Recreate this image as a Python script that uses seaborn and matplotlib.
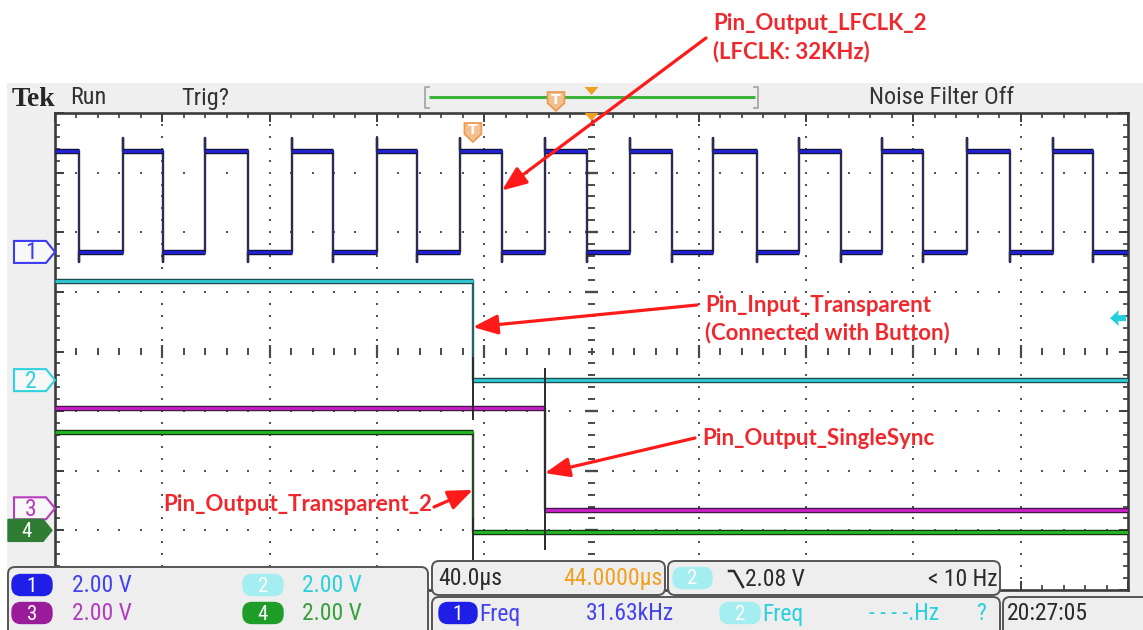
import numpy as np
import pandas as pd
import matplotlib
matplotlib.use("Agg")
import matplotlib.pyplot as plt
import seaborn as sns
from matplotlib import font_manager
from matplotlib.patches import Rectangle, FancyBboxPatch, Polygon
from matplotlib.ticker import MultipleLocator

# ---------------- scope settings ----------------
time_per_div_us = 40.0
volts_per_div = 2.0
h_divs, v_divs = 10, 8

channel_ids = [1, 2, 3, 4]
channel_offset_div = [1.67, -0.48, -2.63, -3.00]       # ground reference of each channel
channel_scale_labels = ["2.00 V", "2.00 V", "2.00 V", "2.00 V"]

# CH1 (LFCLK output): edge times in µs from the left edge of the record
ch1_fall_us = [8.9, 40.3, 71.9, 103.6, 134.9, 166.6, 198.3, 230.0, 261.7, 293.0, 323.6, 356.0, 387.0]
ch1_rise_us = [25.3, 55.9, 88.4, 120.0, 151.0, 182.7, 214.4, 245.3, 277.4, 308.3, 340.0, 372.0]
ch1_high_v, ch1_low_v = 3.38, 0.0
ch1_overshoot_v, ch1_undershoot_v = 0.45, 0.35

# CH2 (button input), CH3 (single-sync output), CH4 (transparent output)
ch2_edge_us, ch2_high_v, ch2_low_v = 155.8, 3.32, 0.0
ch3_edge_us, ch3_high_v, ch3_low_v = 182.6, 3.36, -0.06
ch4_edge_us, ch4_high_v, ch4_low_v = 155.8, 3.30, -0.06

# ringing on the falling edges: time (µs), lowest and highest excursion (div)
ring_t_us = [155.8, 155.8, 182.6]
ring_lo_div = [-1.15, -3.53, -3.33]
ring_hi_div = [-0.09, -2.78, -0.28]

# trigger
trigger_channel = 2
trigger_level_v = 2.08
trigger_time_us = 155.8

# readouts
header_labels = ["Run", "Trig?", "Noise Filter Off"]
timebase_label, position_label = "40.0\u00b5s", "44.0000\u00b5s"
trigger_label, trigger_rate_label = "2.08 V", "< 10 Hz"
meas_labels = ["Freq", "31.63kHz", "Freq", "- - - -.Hz", "?"]
clock_label = "20:27:05"

# annotation texts
note_lfclk = ["Pin_Output_LFCLK_2", "(LFCLK: 32KHz)"]
note_input = ["Pin_Input_Transparent", "(Connected with Button)"]
note_sync = "Pin_Output_SingleSync"
note_out2 = "Pin_Output_Transparent_2"

# ---------------- layout ----------------
W, H = 1143, 630
GL, GR, GT, GB = 55, 1128, 113, 590
T_END = h_divs * time_per_div_us


def t_px(t):
    return GL + t / T_END * (GR - GL)


def d_px(d):
    return GT + (v_divs / 2 - d) / v_divs * (GB - GT)


available = {f.name for f in font_manager.fontManager.ttflist}
scope_font = next((f for f in ["Liberation Sans Narrow", "Roboto Condensed", "Liberation Sans"]
                   if f in available), "DejaVu Sans")
fs = 1.0 if scope_font != "Liberation Sans" else 0.84
note_font = next((f for f in ["Lato", "Open Sans", "DejaVu Sans"] if f in available), "DejaVu Sans")


def build_square(falls, rises, high, low, over, under):
    events = sorted([(t, -1) for t in falls] + [(t, 1) for t in rises])
    level = high
    path_t, path_v, flats = [0.0], [level], []
    t_prev = 0.0
    for t, kind in events:
        flats.append((t_prev, t, level))
        if kind < 0:
            path_t += [t, t, t]
            path_v += [high, low - under, low]
            level = low
        else:
            path_t += [t, t, t]
            path_v += [low, high + over, high]
            level = high
        t_prev = t
    flats.append((t_prev, T_END, level))
    path_t.append(T_END)
    path_v.append(level)
    return path_t, path_v, flats


waves = {
    1: build_square(ch1_fall_us, ch1_rise_us, ch1_high_v, ch1_low_v, ch1_overshoot_v, ch1_undershoot_v),
    2: build_square([ch2_edge_us], [], ch2_high_v, ch2_low_v, 0, 0),
    3: build_square([ch3_edge_us], [], ch3_high_v, ch3_low_v, 0, 0),
    4: build_square([ch4_edge_us], [], ch4_high_v, ch4_low_v, 0, 0),
}

path_rows, flat_rows = [], []
for ch, off in zip(channel_ids, channel_offset_div):
    pt, pv, flats = waves[ch]
    for i, (t, v) in enumerate(zip(pt, pv)):
        path_rows.append(dict(ch=ch, seg=0, idx=i, t=t, div=off + v / volts_per_div))
    for s, (t0, t1, v) in enumerate(flats):
        for t in (t0, t1):
            flat_rows.append(dict(ch=ch, seg=s, t=t, div=off + v / volts_per_div))
path_df = pd.DataFrame(path_rows)
flat_df = pd.DataFrame(flat_rows)

trace_style = {
    1: dict(edge="#2c2c52", outline="#14143a", core="#2121d8"),
    2: dict(edge="#26626a", outline="#1c4c50", core="#2fc6d0"),
    3: dict(edge="#6e3280", outline="#421744", core="#c41fc6"),
    4: dict(edge="#284628", outline="#173317", core="#22b422"),
}

# ---------------- figure ----------------
fig = plt.figure(figsize=(W / 100, H / 100), dpi=100)
fig.patch.set_facecolor("white")

bg = fig.add_axes([0, 0, 1, 1])
bg.set_xlim(0, W); bg.set_ylim(H, 0); bg.axis("off"); bg.set_zorder(0)
bg.add_patch(Rectangle((7, 83), W - 7, H - 83, fc="#efefef", ec="none"))

ax = fig.add_axes([GL / W, 1 - GB / H, (GR - GL) / W, (GB - GT) / H])
ax.set_zorder(1)
ov = fig.add_axes([0, 0, 1, 1])
ov.set_xlim(0, W); ov.set_ylim(H, 0); ov.axis("off"); ov.set_zorder(2)

# ---- graticule ----
ax.set_facecolor("white")
ax.set_xlim(0, T_END)
ax.set_ylim(-v_divs / 2, v_divs / 2)
ax.xaxis.set_major_locator(MultipleLocator(time_per_div_us))
ax.xaxis.set_minor_locator(MultipleLocator(time_per_div_us / 5))
ax.yaxis.set_major_locator(MultipleLocator(1))
ax.yaxis.set_minor_locator(MultipleLocator(0.2))
ax.tick_params(which="both", direction="in", top=True, right=True, bottom=True, left=True,
               labelbottom=False, labelleft=False, color="#3c3c3c")
ax.tick_params(which="major", length=6.5, width=1.4)
ax.tick_params(which="minor", length=3.5, width=1.2)
for sp in ax.spines.values():
    sp.set_color("#3c3c3c")
    sp.set_linewidth(1.9)

minor_t = np.round(np.arange(1, h_divs * 5) * time_per_div_us / 5, 3)
minor_d = np.round(np.arange(-v_divs * 5 // 2 + 1, v_divs * 5 // 2) * 0.2, 3)
major_t = [k * time_per_div_us for k in range(1, h_divs) if k != h_divs // 2]
major_d = [k for k in range(-v_divs // 2 + 1, v_divs // 2) if k != 0]
dx = [t for d in major_d for t in minor_t]
dy = [d for d in major_d for t in minor_t]
dx += [t for t in major_t for d in minor_d]
dy += [d for t in major_t for d in minor_d]
ax.scatter(dx, dy, s=4.0, marker="s", color="#555555", linewidths=0, zorder=1)
center_t = T_END / 2
ax.vlines(minor_t, -0.055, 0.055, color="#4a4a4a", lw=1.4, zorder=1)
ax.vlines(major_t, -0.11, 0.11, color="#4a4a4a", lw=1.6, zorder=1)
ax.hlines(minor_d, center_t - 1.4, center_t + 1.4, color="#4a4a4a", lw=1.4, zorder=1)
ax.hlines(major_d, center_t - 2.4, center_t + 2.4, color="#4a4a4a", lw=1.7, zorder=1)

# ---- traces ----
for ch in channel_ids:
    st = trace_style[ch]
    sns.lineplot(data=path_df[path_df.ch == ch], x="t", y="div", units="seg", estimator=None,
                 sort=False, color=st["edge"], lw=1.7, ax=ax, legend=False, zorder=3)
    sns.lineplot(data=flat_df[flat_df.ch == ch], x="t", y="div", units="seg", estimator=None,
                 sort=False, color=st["outline"], lw=3.9, ax=ax, legend=False, zorder=3,
                 solid_capstyle="butt")
    sns.lineplot(data=flat_df[flat_df.ch == ch], x="t", y="div", units="seg", estimator=None,
                 sort=False, color=st["core"], lw=2.1, ax=ax, legend=False, zorder=4,
                 solid_capstyle="butt")
ax.vlines(ring_t_us, ring_lo_div, ring_hi_div, color="#2a2a2a", lw=1.4, zorder=5)
ax.set_xlabel("")
ax.set_ylabel("")

# ---- header ----
bg.text(12, 106, "Tek", family="Liberation Serif", fontweight="bold", fontsize=20,
        color="#262626", ha="left", va="baseline")
hdr_x = [70, 181, 869]
for x, s in zip(hdr_x, header_labels):
    bg.text(x, 98, s, family=scope_font, fontsize=17.5 * fs, color="#333333", ha="left", va="center")
# record view bar
for xb, sgn in ((425, 1), (758, -1)):
    bg.plot([xb + 4 * sgn, xb, xb, xb + 4 * sgn], [87, 87, 108, 108], color="#a8a8a8", lw=1.3)
bg.plot([429, 755], [96.5, 96.5], color="#3cb43c", lw=2.2, solid_capstyle="butt")
cx = t_px(T_END / 2)
bg.add_patch(Polygon([[cx - 7, 87], [cx + 7, 87], [cx, 95]], closed=True, fc="#f0a020", ec="none"))


def t_marker(axis, x, y0, size=1.0):
    w, h1, h2 = 8.5 * size, 11 * size, 19 * size
    axis.add_patch(Polygon([[x - w, y0], [x + w, y0], [x + w, y0 + h1], [x, y0 + h2], [x - w, y0 + h1]],
                           closed=True, fc="#f6c08e", ec="#e89a52", lw=1.2, zorder=6))
    axis.text(x, y0 + 7.5 * size, "T", color="white", fontsize=10 * size, fontweight="bold",
              ha="center", va="center", family="DejaVu Sans", zorder=7)


t_marker(bg, 556, 92)
t_marker(ov, t_px(trigger_time_us), 123)
ov.add_patch(Polygon([[cx - 7, 113], [cx + 7, 113], [cx, 121]], closed=True, fc="#f0a020", ec="none",
                     zorder=6))

# ---- channel ground markers ----
ch_colors = {1: "#3b3bf0", 2: "#2fd2de", 3: "#b53cbf", 4: "#2e8b32"}
for ch, off in zip(channel_ids, channel_offset_div):
    yc = d_px(off)
    if ch == 4:
        x0, x1 = 8, 52
        ov.add_patch(Polygon([[x0, yc - 11], [x1 - 9, yc - 11], [x1, yc], [x1 - 9, yc + 11], [x0, yc + 11]],
                             closed=True, fc="#2e7d32", ec="#2e7d32", lw=1))
        ov.text(27, yc + 1, str(ch), color="white", fontsize=15 * fs, family=scope_font,
                ha="center", va="center")
    else:
        x0, x1 = 14, 55
        ov.add_patch(Polygon([[x0, yc - 11], [x1 - 9, yc - 11], [x1, yc], [x1 - 9, yc + 11], [x0, yc + 11]],
                             closed=True, fc="#f8f8f8", ec=ch_colors[ch], lw=1.5))
        ov.text(31, yc + 1, str(ch), color=ch_colors[ch], fontsize=17 * fs, family=scope_font,
                ha="center", va="center")

# trigger level arrow on the right edge
ty = d_px(channel_offset_div[trigger_channel - 1] + trigger_level_v / volts_per_div)
ov.add_patch(Polygon([[1110, ty], [1119, ty - 8], [1118, ty - 3], [1126, ty - 3], [1126, ty + 3],
                      [1118, ty + 3], [1119, ty + 8]], closed=True, fc="#22d0dc", ec="none", zorder=6))


# ---- readout panels ----
def panel(x0, y0, x1, y1):
    ov.add_patch(FancyBboxPatch((x0, y0), x1 - x0, y1 - y0, boxstyle="round,pad=0,rounding_size=7",
                                fc="#eeeeee", ec="#555555", lw=1.4, zorder=8))


def pill(x0, x1, yc, color, label):
    ov.add_patch(FancyBboxPatch((x0, yc - 10.5), x1 - x0, 21, boxstyle="round,pad=0,rounding_size=9",
                                fc=color, ec=color, lw=1, zorder=9))
    ov.text((x0 + x1) / 2, yc + 1, label, color="white", fontsize=15 * fs, family=scope_font,
            ha="center", va="center", zorder=10)


def rtext(x, y, s, color, ha="left", size=17):
    ov.text(x, y, s, color=color, fontsize=size * fs, family=scope_font, ha=ha, va="center", zorder=10)


panel(8, 567, 428, 645)
pill_fill = {1: "#1e1ee6", 2: "#a4eef2", 3: "#9a1c9a", 4: "#1e9e28"}
txt_col = {1: "#4343ee", 2: "#2ad0dc", 3: "#b03ebe", 4: "#36a03c"}
slots = {1: (12, 52, 72, 585), 2: (243, 283, 302, 585), 3: (12, 52, 72, 613), 4: (243, 283, 302, 613)}
for ch, lab in zip(channel_ids, channel_scale_labels):
    px0, px1, tx, yc = slots[ch]
    pill(px0, px1, yc, pill_fill[ch], str(ch))
    rtext(tx, yc + 1, lab, txt_col[ch])

panel(432, 561, 665, 595)
rtext(438, 579, timebase_label, "#2a2a2a")
rtext(662, 579, position_label, "#f0a020", ha="right")

panel(668, 561, 1000, 595)
pill(673, 712, 578, pill_fill[2], str(trigger_channel))
ov.plot([729, 734, 743], [571, 571, 587], color="#2a2a2a", lw=1.8, zorder=10)
rtext(745, 579, trigger_label, "#2a2a2a")
rtext(997, 579, trigger_rate_label, "#2a2a2a", ha="right")

panel(432, 597, 1000, 645)
pill(439, 477, 613, pill_fill[1], "1")
rtext(479, 614, meas_labels[0], txt_col[1])
rtext(586, 614, meas_labels[1], txt_col[1])
pill(720, 760, 613, pill_fill[2], "2")
rtext(762, 614, meas_labels[2], txt_col[2])
rtext(869, 614, meas_labels[3], txt_col[2])
rtext(981, 614, meas_labels[4], txt_col[2], ha="center")

panel(1003, 597, 1160, 645)
rtext(1007, 614, clock_label, "#2a2a2a")

# ---- annotations ----
note_color = "#f0282d"
arrow_color = "#ff1a1a"


def note(x, y, s):
    ov.text(x, y, s, color=note_color, fontsize=16, fontweight="bold", family=note_font,
            ha="left", va="baseline", zorder=12)


def pointer(tip_t, tip_d, tail):
    ov.annotate("", xy=(tip_t, tip_d), xycoords=ax.transData, xytext=tail, textcoords=ov.transData,
                arrowprops=dict(arrowstyle="-|>,head_length=0.75,head_width=0.3", color=arrow_color,
                                lw=2.3, shrinkA=0, shrinkB=0, mutation_scale=20),
                annotation_clip=False, zorder=12)


note(713, 30, note_lfclk[0])
note(713, 58, note_lfclk[1])
pointer(ch1_fall_us[5], 2.70, (706, 38))

note(705, 312, note_input[0])
note(705, 339, note_input[1])
pointer(ch2_edge_us, 0.41, (697, 305))

note(702, 445, note_sync)
pointer(ch3_edge_us, -2.04, (695, 438))

note(163, 511, note_out2)
pointer(ch4_edge_us, -2.32, (434, 507))

fig.savefig("out.png", dpi=100, facecolor="white")
